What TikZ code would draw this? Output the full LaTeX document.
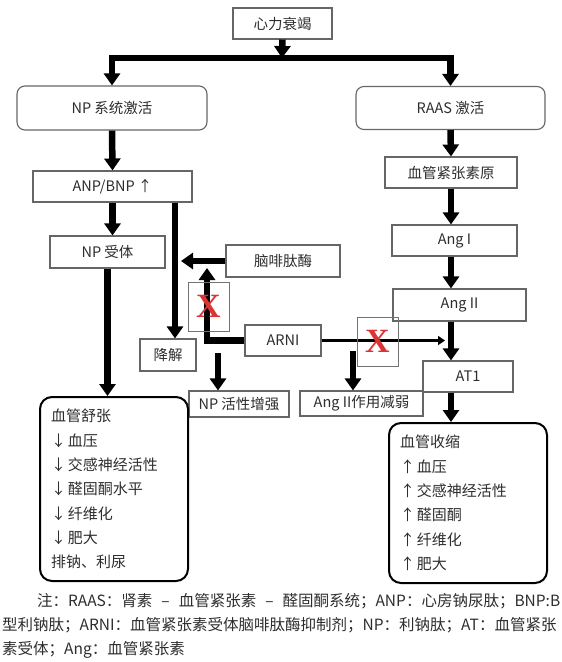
\documentclass[tikz,border=0pt]{standalone}
\usepackage{fontspec}
\setmainfont{Noto Sans CJK SC}
\newfontfamily\xfont{Liberation Serif}
\usetikzlibrary{arrows.meta}
\definecolor{xred}{RGB}{218,52,52}
\definecolor{ink}{RGB}{45,45,45}

\begin{document}
\begin{tikzpicture}[x=1pt,y=-1pt,
   box/.style={draw=black!60,line width=1.1pt,text=ink,inner sep=0pt,font=\fontsize{14.5}{17}\selectfont},
   rbox/.style={box,rounded corners=8pt},
   bigbox/.style={draw=black,line width=2pt,rounded corners=12pt,text=ink,align=left,inner xsep=11pt,inner ysep=0pt,anchor=north west,font=\fontsize{15}{24.3}\selectfont},
   xbox/.style={draw=black!55,line width=0.9pt,inner sep=0pt,text=xred,font=\xfont\bfseries\fontsize{34}{34}\selectfont},
   fat/.style={line width=6.5pt,-{Triangle[length=12pt,width=16pt]}},
   thin/.style={line width=3pt,-{Triangle[length=7pt,width=9pt]}}]
   \useasboundingbox (0,0) rectangle (562,662);

   \node[box,minimum width=99pt,minimum height=31pt] (hf) at (282.5,23.5) {心力衰竭};
   \node[rbox,minimum width=190pt,minimum height=44pt] (np) at (112,108) {NP 系统激活};
   \node[rbox,minimum width=189pt,minimum height=43pt] (raas) at (450.5,108) {RAAS 激活};
   \node[box,minimum width=159pt,minimum height=31pt] (anp) at (112.5,186.5) {ANP/BNP ↑};
   \node[box,minimum width=132pt,minimum height=31pt] (agt) at (451,172.5) {血管紧张素原};
   \node[box,minimum width=125pt,minimum height=31pt] (angI) at (454.5,240.5) {Ang I};
   \node[box,minimum width=133pt,minimum height=32pt] (angII) at (459.5,305) {Ang II};
   \node[box,minimum width=90pt,minimum height=31pt] (at1) at (468,376.5) {AT1};
   \node[box,minimum width=115pt,minimum height=32pt] (npr) at (107.5,252) {NP 受体};
   \node[box,minimum width=56pt,minimum height=32pt] (deg) at (168,355) {降解};
   \node[box,minimum width=114pt,minimum height=32pt] (nep) at (283,261) {脑啡肽酶};
   \node[box,minimum width=76pt,minimum height=31pt] (arni) at (283,340.5) {ARNI};
   \node[box,minimum width=100pt,minimum height=26pt] (npup) at (239,404) {NP 活性增强};
   \node[box,minimum width=123pt,minimum height=25pt] (angdown) at (361.5,403.5) {Ang II作用减弱};
   \node[bigbox,minimum width=148pt,minimum height=184pt,text width=126pt] (vd) at (39,396)
      {血管舒张\\↓\hspace{2pt}血压\\↓\hspace{2pt}交感神经活性\\↓\hspace{2pt}醛固酮水平\\↓\hspace{2pt}纤维化\\↓\hspace{2pt}肥大\\排钠、利尿};
   \node[bigbox,minimum width=158pt,minimum height=160pt,text width=136pt] (vc) at (388,422)
      {血管收缩\\↑\hspace{2pt}血压\\↑\hspace{2pt}交感神经活性\\↑\hspace{2pt}醛固酮\\↑\hspace{2pt}纤维化\\↑\hspace{2pt}肥大};

   \coordinate (split) at (282,58);
   \coordinate (degin) at ([xshift=7pt]deg.north);
   \coordinate (nepend) at (181,261);
   \coordinate (arniup) at (207,268);
   \coordinate (arniend) at (445,340.5);
   \coordinate (npsrc) at (218,353);
   \coordinate (angsrc) at (353,351);

   \draw[fat] (hf.south) -- (split);
   \draw[fat] (split) -| (np.north);
   \draw[fat] (split) -| (raas.north);
   \draw[fat] (np.south) -- (anp.north);
   \draw[fat] (raas.south) -- (agt.north);
   \draw[fat] (agt.south) -- (agt.south |- angI.north);
   \draw[fat] (angI.south -| agt.south) -- (angII.north -| agt.south);
   \draw[fat] (angII.south -| agt.south) -- (at1.north -| agt.south);
   \draw[fat] (at1.south -| agt.south) -- (vc.north -| agt.south);
   \draw[fat] (anp.south) -- (anp.south |- npr.north);
   \draw[fat] (npr.south) -- (npr.south |- vd.north);
   \draw[fat] (anp.south -| degin) -- (degin);
   \draw[fat] (nep.west) -- (nepend);
   \draw[fat] (arni.west) -| (arniup);
   \draw[thin] (arni.east) -- (arniend);
   \draw[fat] (npsrc) -- (npup.north -| npsrc);
   \draw[fat] (angsrc) -- (angdown.north -| angsrc);

   \node[xbox,minimum width=41pt,minimum height=49pt] (x1) at (208.5,306.5) {X};
   \node[xbox,minimum width=41pt,minimum height=49pt] (x2) at (377.5,341.5) {X};

   \node[anchor=north west,align=left,inner sep=0pt,text=ink,font=\fontsize{15.5}{24}\selectfont] (note) at (2,593)
      {\hspace*{35pt}注：RAAS：肾素\hspace{9pt}–\hspace{9pt}血管紧张素\hspace{9pt}–\hspace{9pt}醛固酮系统；ANP：心房钠尿肽；BNP:B\\
       型利钠肽；ARNI：血管紧张素受体脑啡肽酶抑制剂；NP：利钠肽；AT：血管紧张\\
       素受体；Ang：血管紧张素};
\end{tikzpicture}
\end{document}
